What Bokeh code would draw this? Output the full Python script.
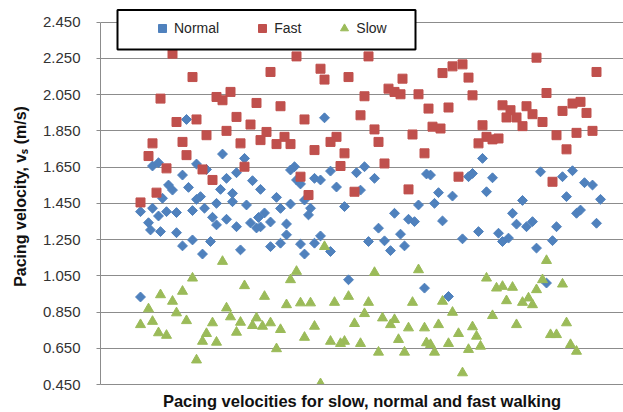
import numpy as np
from bokeh.plotting import figure
from bokeh.models import (Range1d, FixedTicker, PrintfTickFormatter, Legend,
                          LegendItem, BoxAnnotation)
from bokeh.embed import file_html
from bokeh.resources import INLINE

# ---------------- data ----------------
y_ticks = [0.45, 0.65, 0.85, 1.05, 1.25, 1.45, 1.65, 1.85, 2.05, 2.25, 2.45]

normal_x = [21.5, 30.5, 36, 13, 14.5, 24, 26.5, 20.5, 34, 38,
            31.5, 17, 18, 22, 30, 33, 25, 24, 10, 13,
            15.5, 14.5, 16.5, 19, 23, 26, 29, 33, 36.5, 28,
            31.5, 29, 34, 37.5, 39, 39.5, 40, 41, 42.5, 12,
            12.5, 15, 19, 23, 27.5, 20.5, 25.5, 35, 10, 56,
            48.5, 47.5, 49, 50, 53.5, 55, 57.5, 59, 64, 66,
            68.5, 40, 44, 65, 81.5, 45, 47.5, 51, 52.5, 52,
            61, 79.5, 73.5, 77, 78.5, 46.5, 46.5, 69.5, 75, 42.5,
            45, 50, 51, 53.5, 55, 57.5, 67, 71, 72.5, 76,
            62, 81, 95.5, 82.5, 92, 93, 98, 110, 115.5, 118,
            121, 123, 84.5, 88, 96.5, 105.5, 116.5, 125, 83.5, 85.5,
            103, 104, 106.5, 108, 114, 119, 120, 124, 90.5, 94.5,
            99.5, 100.5, 102, 113, 109, 111.5, 87]
normal_y = [1.913, 1.722, 1.698, 1.656, 1.674, 1.667, 1.637, 1.606, 1.619, 1.575,
            1.588, 1.551, 1.523, 1.538, 1.527, 1.505, 1.487, 1.472, 1.404, 1.423,
            1.478, 1.380, 1.404, 1.399, 1.410, 1.423, 1.450, 1.459, 1.441, 1.373,
            1.362, 1.331, 1.321, 1.342, 1.314, 1.372, 1.320, 1.397, 1.347, 1.343,
            1.303, 1.294, 1.288, 1.248, 1.239, 1.215, 1.170, 1.193, 0.933, 1.922,
            1.652, 1.634, 1.579, 1.557, 1.588, 1.579, 1.628, 1.540, 1.619, 1.652,
            1.588, 1.527, 1.483, 1.523, 1.612, 1.422, 1.446, 1.468, 1.423, 1.386,
            1.432, 1.441, 1.395, 1.362, 1.349, 1.336, 1.276, 1.313, 1.280, 1.211,
            1.230, 1.225, 1.170, 1.230, 1.270, 1.184, 1.239, 1.243, 1.189, 1.215,
            1.028, 0.982, 1.698, 1.606, 1.597, 1.615, 1.591, 1.624, 1.597, 1.630,
            1.564, 1.551, 1.509, 1.490, 1.514, 1.466, 1.487, 1.472, 1.450, 1.353,
            1.395, 1.335, 1.321, 1.349, 1.321, 1.395, 1.413, 1.340, 1.254, 1.294,
            1.285, 1.239, 1.258, 1.244, 1.203, 1.010, 0.936]

fast_x = [18, 23, 15, 29, 30.5, 32.5, 39, 19, 24, 34,
          37.5, 26.5, 31.5, 13, 20.5, 35, 12, 21.5, 16.5, 25.5,
          36, 28, 14, 10, 49, 67, 42.5, 55, 56, 62,
          75.5, 72, 73.5, 75, 79.5, 66, 45, 82, 65, 51,
          41.5, 40, 46, 44, 47.5, 59, 57.5, 68.5, 69.5, 78,
          83, 53.5, 61, 81, 60, 71, 50, 52, 63.5, 77,
          109, 124, 85.5, 88, 90.5, 92, 93, 111.5, 87, 100.5,
          102.5, 101.5, 104, 106.5, 108, 105.5, 110.5, 115.5, 118, 120,
          121.5, 85, 95.5, 96.5, 98, 99.5, 94.5, 114, 119, 123,
          116.5, 89.5, 113]
fast_y = [2.276, 2.147, 2.028, 2.037, 2.019, 2.065, 2.004, 1.899, 1.913, 1.927,
          1.885, 1.826, 1.850, 1.781, 1.789, 1.781, 1.711, 1.716, 1.643, 1.637,
          1.652, 1.579, 1.509, 1.455, 2.261, 2.261, 2.175, 2.193, 2.133, 2.147,
          2.138, 2.083, 2.065, 2.052, 2.052, 2.041, 1.986, 1.973, 1.936, 1.913,
          1.844, 1.799, 1.817, 1.777, 1.777, 1.817, 1.789, 1.858, 1.789, 1.830,
          1.873, 1.744, 1.726, 1.726, 1.656, 1.670, 1.597, 1.496, 1.514, 1.527,
          2.254, 2.175, 2.169, 2.206, 2.217, 2.144, 2.046, 2.059, 1.979, 1.991,
          1.964, 1.924, 1.924, 1.986, 1.942, 1.876, 1.899, 1.960, 2.001, 2.010,
          1.949, 1.863, 1.881, 1.817, 1.803, 1.808, 1.781, 1.826, 1.839, 1.850,
          1.748, 1.597, 1.569]

slow_x = [30.5, 23, 36, 20.5, 15, 18, 12, 19, 31.5, 32.5,
          10, 13, 21.5, 28, 35, 39, 38, 14.5, 16.5, 26.5,
          34, 25.5, 29, 24, 56, 49, 47.5, 68.5, 79.5, 41,
          46.5, 50, 52.5, 58.5, 62, 67, 78, 66, 40.5, 42.5,
          45, 53.5, 63.5, 70.5, 73.5, 72.5, 77, 81, 51, 57.5,
          61, 60, 65, 74.5, 81.5, 44, 69.5, 76, 55, 111.5,
          96.5, 110.5, 115.5, 99, 100.5, 103, 109, 85.5, 101.5, 105.5,
          107, 108, 88, 98, 84.5, 104, 116.5, 89.5, 93, 94,
          112.5, 114, 82.5, 87, 95, 83.5, 92, 117.5, 119, 90.5]
slow_y = [1.129, 1.037, 0.995, 0.964, 0.945, 0.909, 0.867, 0.845, 0.872, 0.823,
          0.780, 0.798, 0.802, 0.790, 0.793, 0.817, 0.775, 0.735, 0.721, 0.731,
          0.738, 0.688, 0.683, 0.585, 1.211, 1.074, 1.028, 1.068, 1.083, 0.936,
          0.890, 0.900, 0.900, 0.903, 0.936, 0.903, 0.903, 0.841, 0.771, 0.790,
          0.753, 0.771, 0.786, 0.817, 0.808, 0.780, 0.762, 0.762, 0.710, 0.688,
          0.688, 0.676, 0.676, 0.698, 0.680, 0.647, 0.628, 0.628, 0.454, 1.134,
          1.037, 1.028, 1.004, 0.982, 0.991, 0.986, 0.973, 0.909, 0.912, 0.903,
          0.927, 0.890, 0.848, 0.830, 0.780, 0.780, 0.790, 0.731, 0.768, 0.716,
          0.725, 0.725, 0.670, 0.676, 0.661, 0.628, 0.643, 0.670, 0.633, 0.514]

series_names = ["Normal", "Fast", "Slow"]
x_title = "Pacing velocities for slow, normal and fast walking"
y_title = "Pacing velocity, v\u209b (m/s)"

# ---------------- styling ----------------
C_NORMAL = "#4F81BD"
C_FAST = "#C0504D"
C_SLOW = "#9BBB59"
GRID = "#8c8c8c"
FONT = "Liberation Sans"

Y_MIN, Y_MAX = y_ticks[0], y_ticks[-1]
# the frame reaches a little above the top tick so the legend box fits inside it
Y_TOP = Y_MAX + 0.0754

p = figure(width=623, height=412, output_backend="svg", toolbar_location=None,
           x_range=Range1d(0, 130.75), y_range=Range1d(Y_MIN, Y_TOP),
           min_border_left=100, min_border_right=0, min_border_top=8,
           min_border_bottom=27)
p.outline_line_color = None
p.background_fill_color = "white"
p.border_fill_color = "white"

p.xgrid.grid_line_color = None
p.ygrid.ticker = FixedTicker(ticks=y_ticks)
p.ygrid.grid_line_color = GRID
p.ygrid.grid_line_width = 1

ya = p.yaxis[0]
ya.ticker = FixedTicker(ticks=y_ticks)
ya.bounds = (Y_MIN, Y_MAX)
ya.formatter = PrintfTickFormatter(format="%.3f")
ya.axis_line_color = GRID
ya.major_tick_line_color = GRID
ya.major_tick_in = 0
ya.major_tick_out = 4
ya.minor_tick_line_color = None
ya.major_label_standoff = 16
ya.major_label_text_font = FONT
ya.major_label_text_font_size = "15px"
ya.major_label_text_color = "#333333"
ya.axis_label = y_title
ya.axis_label_text_font = FONT
ya.axis_label_text_font_style = "bold"
ya.axis_label_text_font_size = "16px"
ya.axis_label_text_color = "#111111"
ya.axis_label_standoff = 11

xa = p.xaxis[0]
xa.ticker = FixedTicker(ticks=[])
xa.axis_line_color = GRID
xa.major_tick_line_color = None
xa.minor_tick_line_color = None
xa.major_label_text_font_size = "0px"
xa.major_label_standoff = 0
xa.axis_label = x_title
xa.axis_label_text_font = FONT
xa.axis_label_text_font_style = "bold"
xa.axis_label_text_font_size = "16.5px"
xa.axis_label_text_color = "#111111"
xa.axis_label_standoff = 7

r_n = p.scatter(normal_x, normal_y, marker="square", angle=np.pi / 4, size=7,
                fill_color=C_NORMAL, line_color=C_NORMAL, line_width=1)
r_f = p.scatter(fast_x, fast_y, marker="square", size=9,
                fill_color=C_FAST, line_color=C_FAST, line_width=1)
r_s = p.scatter(slow_x, slow_y, marker="triangle", size=10,
                fill_color=C_SLOW, line_color=C_SLOW, line_width=1)

box = BoxAnnotation(left=117, right=415, top=9.5, bottom=49,
                    left_units="canvas", right_units="canvas",
                    top_units="canvas", bottom_units="canvas",
                    fill_color="white", fill_alpha=1.0,
                    line_color="black", line_width=2, line_alpha=1.0)
p.add_layout(box)

legend = Legend(items=[LegendItem(label=series_names[0], renderers=[r_n]),
                       LegendItem(label=series_names[1], renderers=[r_f]),
                       LegendItem(label=series_names[2], renderers=[r_s])],
                orientation="horizontal", location=(52, 345.7),
                border_line_color=None, background_fill_alpha=0,
                padding=0, margin=0, spacing=33,
                glyph_width=20, glyph_height=20, label_standoff=2,
                label_text_font=FONT, label_text_font_size="14px",
                label_text_color="#262626")
p.add_layout(legend)

open("out.html", "w").write(file_html(p, INLINE))
